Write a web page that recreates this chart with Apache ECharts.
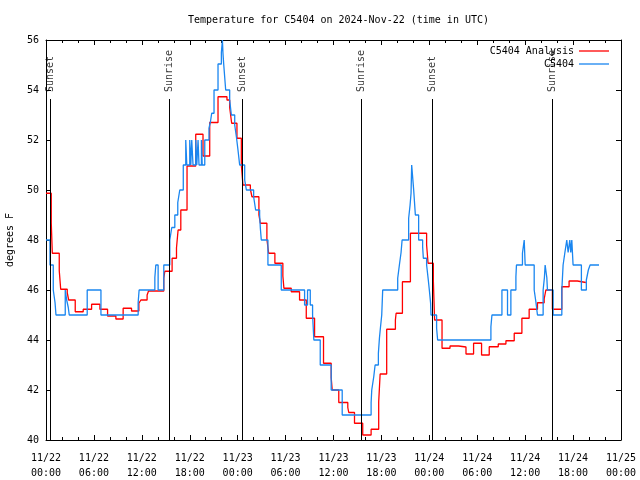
<!DOCTYPE html>
<html>
<head>
<meta charset="utf-8">
<script src="https://cdn.jsdelivr.net/npm/echarts@6/dist/echarts.min.js"></script>
<style>html,body{margin:0;padding:0;background:#fff}#c{width:640px;height:480px}</style>
</head>
<body>
<div id="c"></div>
<script>
// hours since 2024-11-22 00:00 UTC
const redHours = [0, 0.66, 0.79, 1.66, 1.84, 2.66, 2.84, 3.66, 4.66, 5.71, 6.75, 7.71, 8.75, 9.66, 10.71, 11.63, 11.88, 12.66, 12.84, 14.75, 14.88, 15.79, 16.34, 16.54, 16.88, 17.66, 18.75, 19.66, 20.5, 21.54, 22.66, 23.0, 23.25, 23.91, 24.46, 24.66, 25.59, 25.79, 26.66, 26.84, 27.66, 27.88, 28.66, 29.66, 29.79, 30.71, 31.75, 32.59, 33.63, 34.75, 35.71, 35.84, 36.66, 37.79, 37.91, 38.63, 39.66, 40.71, 41.66, 41.84, 42.66, 43.75, 43.84, 44.63, 45.63, 47.66, 47.84, 48.5, 48.66, 49.59, 50.59, 51.66, 52.59, 53.54, 54.54, 55.5, 56.63, 57.59, 58.63, 59.59, 60.5, 61.54, 62.38, 62.59, 63.41, 64.59, 65.5, 66.54, 67.6];
const redTemps = [49.87, 48.68, 47.47, 46.77, 46.03, 45.89, 45.6, 45.13, 45.23, 45.43, 45.23, 44.96, 44.84, 45.27, 45.16, 45.47, 45.6, 45.8, 45.96, 46.47, 46.75, 47.27, 47.68, 48.4, 49.2, 50.96, 52.23, 51.36, 52.7, 53.73, 53.6, 53.3, 52.67, 52.07, 51.0, 50.2, 50.03, 49.73, 49.0, 48.67, 48.03, 47.47, 47.07, 46.56, 46.07, 45.93, 45.6, 44.87, 44.13, 43.07, 42.5, 42.0, 41.5, 41.3, 41.1, 40.67, 40.2, 40.43, 41.53, 42.64, 44.43, 44.8, 45.07, 46.33, 48.27, 47.8, 47.07, 46.4, 44.8, 43.67, 43.76, 43.72, 43.44, 43.87, 43.4, 43.73, 43.84, 43.97, 44.27, 44.87, 45.23, 45.49, 45.64, 46.0, 45.23, 46.13, 46.36, 46.3, 46.3];
const blueHours = [0, 0.5, 0.91, 1.13, 1.25, 2.41, 2.59, 2.79, 2.91, 5.16, 6.88, 11.54, 11.66, 13.63, 13.75, 14.04, 14.75, 15.5, 15.75, 16.13, 16.5, 16.75, 17.19, 17.5, 17.63, 18.0, 18.13, 18.25, 18.41, 18.75, 18.88, 19.04, 19.16, 19.46, 19.56, 19.88, 20.41, 20.59, 20.75, 21.04, 21.54, 21.96, 22.09, 22.16, 22.25, 22.5, 23.0, 23.21, 23.63, 23.84, 24.04, 24.25, 24.88, 25.09, 26.0, 26.25, 26.75, 26.84, 26.96, 27.79, 29.46, 32.38, 32.75, 33.09, 33.38, 33.54, 34.34, 35.71, 37.09, 40.71, 40.79, 41.04, 41.21, 41.62, 41.75, 41.87, 42.04, 42.16, 44.04, 44.25, 44.46, 44.59, 45.41, 45.59, 45.71, 45.79, 46.04, 46.25, 46.66, 47.16, 47.25, 47.66, 47.87, 48.0, 48.16, 48.21, 48.91, 49.04, 55.71, 55.84, 57.09, 57.79, 58.21, 58.84, 58.91, 59.66, 59.88, 60.0, 61.13, 61.34, 61.54, 62.25, 62.41, 62.5, 62.71, 62.79, 63.5, 64.59, 64.75, 64.96, 65.21, 65.38, 65.59, 65.71, 65.84, 66.0, 67.04, 67.66, 67.91, 68.13, 69.25];
const blueTemps = [48.0, 47.0, 46.0, 45.5, 45.0, 46.0, 45.6, 45.3, 45.0, 46.0, 45.0, 45.5, 46.0, 46.5, 47.0, 46.0, 47.0, 48.0, 48.5, 49.0, 49.5, 50.0, 51.0, 52.0, 51.0, 52.0, 51.0, 52.0, 51.0, 52.0, 51.0, 52.0, 51.0, 52.0, 51.0, 52.0, 52.47, 52.73, 53.07, 54.0, 55.04, 55.5, 56.0, 55.47, 55.04, 54.0, 53.6, 53.0, 52.6, 52.13, 51.6, 51.0, 50.4, 50.0, 49.73, 49.2, 49.0, 48.47, 48.0, 47.0, 46.0, 45.4, 46.0, 45.4, 45.0, 44.0, 43.0, 42.0, 41.0, 41.5, 42.0, 42.53, 43.0, 43.47, 44.07, 44.47, 45.0, 46.0, 46.47, 47.0, 47.5, 48.0, 48.87, 49.4, 49.87, 51.0, 50.0, 49.0, 48.0, 47.73, 47.27, 47.0, 46.4, 46.0, 45.47, 45.0, 44.47, 44.0, 44.53, 45.0, 46.0, 45.0, 46.0, 46.53, 47.0, 47.47, 48.0, 47.0, 46.0, 45.53, 45.0, 46.0, 46.5, 47.0, 46.5, 46.0, 45.0, 46.0, 47.0, 47.47, 48.0, 47.5, 48.0, 47.5, 48.0, 47.0, 46.0, 46.4, 46.8, 47.0, 47.0];
const sunHours = [0.54, 15.41, 24.54, 39.46, 48.42, 63.41];
const sunLabels = ['Sunset', 'Sunrise', 'Sunset', 'Sunrise', 'Sunset', 'Sunrise'];
const sunLineTop = 53.64;
const sunLabelBase = 53.92;
const yTicks = [40, 42, 44, 46, 48, 50, 52, 54, 56];

const FONT = 'DejaVu Sans Mono';
const zip = (a, b) => a.map((v, i) => [v, b[i]]);
function xFmt(h) {
  const day = 22 + Math.floor(h / 24);
  const hh = Math.round(h % 24);
  return '11/' + day + '\n' + String(hh).padStart(2, '0') + ':00';
}
const chart = echarts.init(document.getElementById('c'), null, {renderer: 'canvas'});
const axisCommon = {
  axisLine: {show: true, onZero: false, lineStyle: {color: '#000', width: 1}},
  splitLine: {show: false}
};
chart.setOption({
  animation: false,
  backgroundColor: '#fff',
  title: {
    text: 'Temperature for C5404 on 2024-Nov-22 (time in UTC)',
    left: 333.5, top: 10, textAlign: 'center',
    textStyle: {fontFamily: FONT, fontSize: 10, fontWeight: 'normal', color: '#000'}
  },
  legend: [
    {data: ['C5404 Analysis'], right: 26, top: 41, align: 'right', icon: 'rect', itemWidth: 30, itemHeight: 1.3,
     textStyle: {fontFamily: FONT, fontSize: 10, color: '#000'}},
    {data: ['C5404'], right: 26, top: 54, align: 'right', icon: 'rect', itemWidth: 30, itemHeight: 1.3,
     textStyle: {fontFamily: FONT, fontSize: 10, color: '#000'}}
  ],
  grid: {left: 46, right: 19, top: 40, bottom: 40, containLabel: false, outerBoundsMode: 'none'},
  xAxis: [
    Object.assign({type: 'value', min: 0, max: 72, interval: 6, position: 'bottom',
      axisTick: {show: true, inside: true, length: 5, lineStyle: {color: '#000'}},
      minorTick: {show: true, splitNumber: 3, length: 3, lineStyle: {color: '#000'}},
      axisLabel: {formatter: xFmt, fontFamily: FONT, fontSize: 10, color: '#000', lineHeight: 15, margin: 11}
    }, axisCommon),
    Object.assign({type: 'value', min: 0, max: 72, interval: 6, position: 'top',
      axisTick: {show: true, inside: true, length: 5, lineStyle: {color: '#000'}},
      minorTick: {show: true, splitNumber: 3, length: 3, lineStyle: {color: '#000'}},
      axisLabel: {show: false}
    }, axisCommon)
  ],
  yAxis: [
    Object.assign({type: 'value', min: yTicks[0], max: yTicks[yTicks.length - 1], interval: 2, position: 'left',
      name: 'degrees F', nameLocation: 'middle', nameGap: 31,
      nameTextStyle: {fontFamily: FONT, fontSize: 10, color: '#000'},
      axisTick: {show: true, inside: true, length: 5, lineStyle: {color: '#000'}},
      axisLabel: {fontFamily: FONT, fontSize: 10, color: '#000', margin: 7}
    }, axisCommon),
    Object.assign({type: 'value', min: yTicks[0], max: yTicks[yTicks.length - 1], interval: 2, position: 'right',
      axisTick: {show: true, inside: true, length: 5, lineStyle: {color: '#000'}},
      axisLabel: {show: false}
    }, axisCommon)
  ],
  series: [
    {name: 'C5404 Analysis', type: 'line', step: 'end', data: zip(redHours, redTemps), showSymbol: false, symbol: 'none',
     color: '#ff0000', lineStyle: {color: '#ff0000', width: 1.3}, z: 2},
    {name: 'C5404', type: 'line', step: 'end', data: zip(blueHours, blueTemps), showSymbol: false, symbol: 'none',
     color: '#1a86f0', lineStyle: {color: '#1a86f0', width: 1.3}, z: 3},
    {name: 'sun', type: 'scatter', symbolSize: 0, silent: true, z: 4,
     data: sunHours.map((h, i) => ({value: [h, sunLabelBase], name: sunLabels[i]})),
     label: {show: true, formatter: p => p.name, position: 'right', distance: 0, rotate: 90,
             fontFamily: FONT, fontSize: 10, color: '#000'},
     markLine: {silent: true, symbol: 'none', label: {show: false},
       lineStyle: {color: '#000', width: 1, type: 'solid'},
       data: sunHours.map(h => [{coord: [h, sunLineTop]}, {coord: [h, yTicks[0]]}])}
    }
  ]
});
</script>
</body>
</html>
